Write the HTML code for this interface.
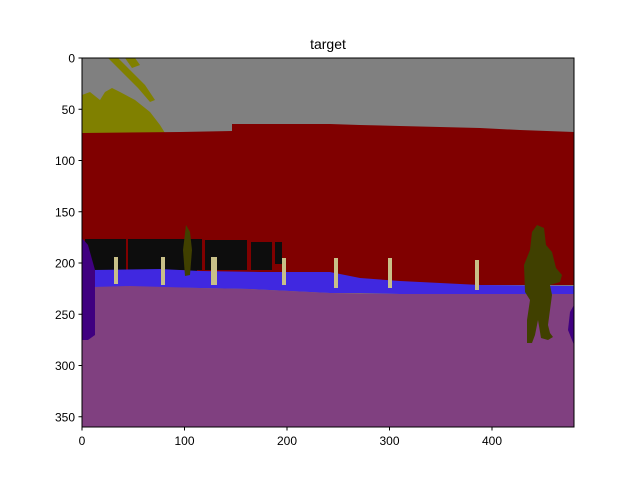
<!DOCTYPE html>
<html><head><meta charset="utf-8"><style>
body{margin:0;background:#fff;}
svg{display:block;font-family:"Liberation Sans","DejaVu Sans",sans-serif;}
</style></head><body>
<svg width="640" height="480" viewBox="0 0 640 480">
<text x="328" y="49" font-size="14" text-anchor="middle">target</text>
<g>
<rect x="82" y="58" width="492" height="369" fill="#808080"/>
<g fill="#808000">
<polygon points="82,95 90,92 100,100 105,92 112,88 120,92 135,100 150,112 160,125 165,133 82,133"/>
<polygon points="108,58 118,58 130,70 145,85 155,100 150,102 138,88 122,72"/>
<polygon points="125,58 135,58 140,65 132,68"/>
</g>
<polygon fill="#800000" points="82,133 180,132 232,131 232,124 330,124 360,125 400,126 440,127 480,128 520,130 574,132 574,285 520,285 480,285 440,286 400,285 360,288 330,286 300,283 260,281 200,279 120,278 82,276"/>
<g fill="#0d0d0d">
<rect x="85" y="239" width="41" height="31"/>
<rect x="128" y="239" width="74" height="31"/>
<rect x="186" y="250" width="11" height="33"/>
<rect x="205" y="240" width="42" height="30"/>
<rect x="251" y="242" width="21" height="28"/>
<rect x="275" y="242" width="7" height="22"/>
</g>
<polygon fill="#4028e0" points="93,270 160,269 200,271 260,272 330,272 360,278 400,281 440,283 480,285 574,286 574,296 520,294 480,294 440,294 400,294 360,293 330,293 250,289 200,288 130,287 93,287"/>
<polygon fill="#804080" points="93,287 130,286 200,288 250,289 330,293 400,294 480,294 574,294 574,427 82,427 82,340 93,330"/>
<polygon fill="#400080" points="82,238 88,245 95,270 95,335 88,340 82,340"/>
<polygon fill="#400080" points="574,305 570,312 568,330 574,345"/>
<polygon fill="#404000" points="186,225 190,232 192,250 190,275 185,276 183,250"/>
<polygon fill="#404000" points="537,225 544,228 546,245 552,252 556,268 562,275 560,282 550,285 552,295 548,325 550,333 553,337 548,340 541,338 538,320 535,335 532,343 527,343 527,320 530,300 525,292 524,265 530,250 532,232"/>
<g fill="#c8c088">
<rect x="114" y="257" width="4" height="27"/>
<rect x="161" y="257" width="4" height="28"/>
<rect x="211" y="257" width="6" height="28"/>
<rect x="282" y="258" width="4" height="27"/>
<rect x="334" y="258" width="4" height="30"/>
<rect x="388" y="258" width="4" height="30"/>
<rect x="475" y="260" width="4" height="30"/>
</g>
</g>
<rect x="82" y="58" width="492" height="369" fill="none" stroke="#000" stroke-width="1"/>
<g id="ticks" font-size="12"></g>
</svg>
<script>
const xTicks=[0,100,200,300,400];
const yTicks=[0,50,100,150,200,250,300,350];
const g=document.getElementById('ticks');
const ns='http://www.w3.org/2000/svg';
const sx=v=>82+v*492/480, sy=v=>58+v*369/360;
xTicks.forEach(v=>{
 const l=document.createElementNS(ns,'line');
 l.setAttribute('x1',sx(v));l.setAttribute('x2',sx(v));l.setAttribute('y1',427);l.setAttribute('y2',430.5);l.setAttribute('stroke','#000');
 
 
 g.appendChild(l);
 const t=document.createElementNS(ns,'text');
 t.setAttribute('x',sx(v));t.setAttribute('y',445);t.setAttribute('text-anchor','middle');t.textContent=v;
 
 
 g.appendChild(t);
});
yTicks.forEach(v=>{
 const l=document.createElementNS(ns,'line');
 l.setAttribute('x1',78.5);l.setAttribute('x2',82);l.setAttribute('y1',sy(v));l.setAttribute('y2',sy(v));l.setAttribute('stroke','#000');
 
 
 g.appendChild(l);
 const t=document.createElementNS(ns,'text');
 t.setAttribute('x',75);t.setAttribute('y',sy(v)+4.5);t.setAttribute('text-anchor','end');t.textContent=v;
 
 
 g.appendChild(t);
});
</script>
</body></html>
